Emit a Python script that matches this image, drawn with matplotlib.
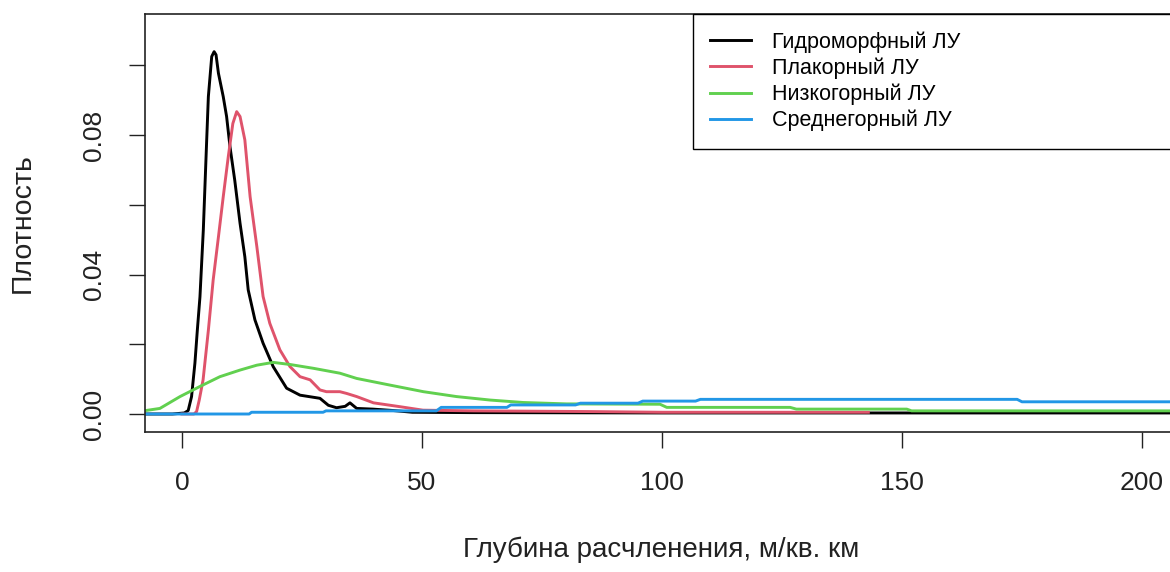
import numpy as np
import matplotlib.pyplot as plt

plt.rcParams['font.family'] = ['Liberation Sans', 'DejaVu Sans']

hydro_x = [-8, -2, 0.5, 1.3, 2.0, 2.7, 3.2, 3.75, 4.45, 5.1, 5.5, 6.2, 6.7, 7.1, 7.6, 8.6, 9.3, 10,
           11, 12.1, 13.1, 13.8, 15.2, 16.9, 19, 21.8, 24.6, 28.75, 30.5, 32.2, 34, 35, 36.4, 39.8,
           44, 48, 60, 100, 150, 210]
hydro_y = [0, 0, 0.0003, 0.001, 0.005, 0.0146, 0.024, 0.0336, 0.0528, 0.0767, 0.091, 0.1025, 0.1039,
           0.1030, 0.0977, 0.091, 0.0853, 0.0767, 0.067, 0.0547, 0.0451, 0.0356, 0.027, 0.0203,
           0.0136, 0.0074, 0.0054, 0.0045, 0.0025, 0.0018, 0.0022, 0.0032, 0.0016, 0.0014,
           0.0010, 0.0005, 0.0004, 0.0003, 0.0003, 0.0003]

plak_x = [0, 2.5, 3.05, 3.6, 4.4, 5.5, 6.5, 7.6, 8.6, 9.65, 10.6, 11.4, 12.1, 13.1, 14.2, 15.6, 16.9,
          18.3, 20.4, 22.5, 24.6, 26.7, 28.75, 30.1, 32.9, 34.3, 36.4, 39.9, 45.4, 50.2, 60.7, 85,
          100, 143]
plak_y = [0, 0, 0.0007, 0.004, 0.0098, 0.024, 0.0384, 0.0508, 0.0623, 0.0738, 0.0833, 0.0867,
          0.0853, 0.0786, 0.0623, 0.048, 0.0337, 0.026, 0.0184, 0.0136, 0.0107, 0.0098, 0.0069,
          0.0064, 0.0064, 0.0059, 0.005, 0.0032, 0.0021, 0.0011, 0.0009, 0.0007, 0.0005, 0.0005]

nizk_x = [-8, -4.6, -0.4, 3.75, 7.9, 12.1, 15.6, 19, 22.5, 27.4, 32.9, 36.4, 43.3, 50.3, 57.2,
          64.2, 71.1, 80.1, 99.6, 101, 126.7, 128, 151, 152, 210]
nizk_y = [0.0009, 0.0016, 0.005, 0.0079, 0.0107, 0.0126, 0.0140, 0.0148, 0.0142, 0.0131, 0.0117,
          0.0102, 0.0083, 0.0064, 0.005, 0.004, 0.0033, 0.0029, 0.0028, 0.0019, 0.0019, 0.0014,
          0.0014, 0.0009, 0.0009]

sred_x = [-8, 14, 14.5, 29.4, 30, 53, 54, 67.7, 68.5, 82, 83, 95, 96, 107, 108, 174, 175, 210]
sred_y = [0, 0, 0.0005, 0.0005, 0.0009, 0.0009, 0.0019, 0.0019, 0.0026, 0.0026, 0.0031, 0.0031,
          0.0037, 0.0037, 0.0042, 0.0042, 0.0035, 0.0035]

labels = ['Гидроморфный ЛУ', 'Плакорный ЛУ', 'Низкогорный ЛУ', 'Среднегорный ЛУ']
colors = ['#000000', '#DF536B', '#61D04F', '#2297E6']

xticks = [0, 50, 100, 150, 200]
yticks = [0, 0.02, 0.04, 0.06, 0.08, 0.10]
ytick_labels = ['0.00', '', '0.04', '', '0.08', '']

fig = plt.figure(figsize=(11.7, 5.72), dpi=100)
ax = fig.add_axes([145 / 1170, 1 - 432 / 572, (1177 - 145) / 1170, (432 - 14) / 572])

series = [(hydro_x, hydro_y), (plak_x, plak_y), (nizk_x, nizk_y), (sred_x, sred_y)]
for (xs, ys), lab, c in zip(series, labels, colors):
    ax.plot(xs, ys, color=c, lw=2.1, label=lab)

ax.set_xlim(-7.7, 207.3)
ax.set_ylim(-0.00516, 0.1147)
ax.set_xticks(xticks)
ax.set_yticks(yticks)
ax.set_yticklabels(ytick_labels, rotation=90, va='center')
ax.tick_params(axis='both', labelsize=19, length=11.3, width=1, direction='out', colors='#222222')
ax.tick_params(axis='x', pad=17)
ax.tick_params(axis='y', pad=17)
for s in ax.spines.values():
    s.set_linewidth(1.2)
    s.set_color('#222222')

ax.set_xlabel('Глубина расчленения, м/кв. км', fontsize=20, labelpad=30, color='#222222')
ax.set_ylabel('Плотность', fontsize=20.5, labelpad=33, color='#222222')

left = (693 - 145) / (1177 - 145)
leg = ax.legend(loc='upper left', bbox_to_anchor=(left, 0, 1 - left, 1), mode='expand',
                fontsize=15.5, frameon=True, fancybox=False, edgecolor='black',
                framealpha=1, borderaxespad=0, handlelength=1.9, handletextpad=0.95,
                labelspacing=0.22, borderpad=0.8)
leg.get_frame().set_linewidth(1.0)

fig.savefig('out.png', dpi=100)
